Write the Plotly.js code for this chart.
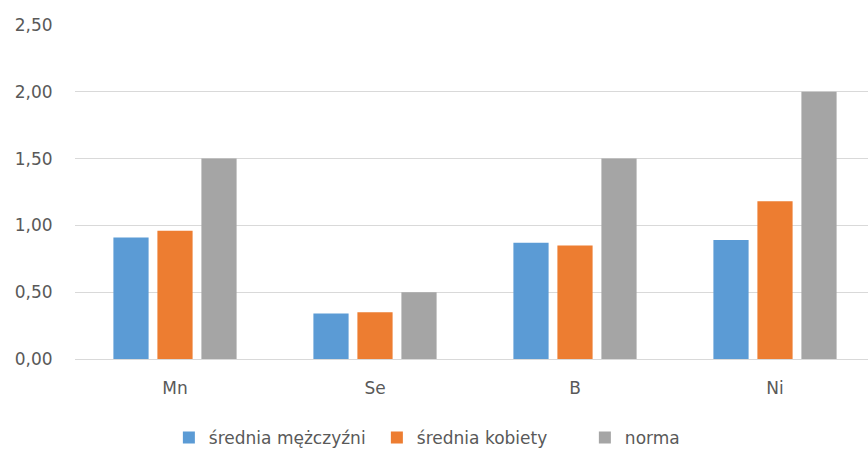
<!DOCTYPE html>
<html>
<head>
<meta charset="utf-8">
<script src="https://cdn.plot.ly/plotly-3.0.1.min.js"></script>
<style>
  html, body { margin: 0; padding: 0; background: #fff; }
  #chart { width: 868px; height: 452px; }
</style>
</head>
<body>
<div id="chart"></div>
<script>
// Pierwiastki i średnie wartości
const categories = ['Mn', 'Se', 'B', 'Ni'];
const sredniaMezczyzni = [0.91, 0.34, 0.87, 0.89];
const sredniaKobiety = [0.96, 0.35, 0.85, 1.18];
const norma = [1.50, 0.50, 1.50, 2.00];
const seriesNames = ['średnia mężczyźni', 'średnia kobiety', 'norma'];
const yTicks = [0, 0.5, 1, 1.5, 2, 2.5];

const colors = ['#5B9BD5', '#ED7D31', '#A5A5A5'];
const values = [sredniaMezczyzni, sredniaKobiety, norma];

const traces = values.map((v, i) => ({
  type: 'bar',
  x: categories,
  y: v,
  name: seriesNames[i],
  marker: { color: colors[i], line: { width: 0 } },
  hoverinfo: 'skip'
}));

const font = { family: 'DejaVu Sans, sans-serif', size: 17, color: '#595959' };

const layout = {
  width: 868,
  height: 452,
  margin: { l: 75, r: 0, t: 25, b: 93 },
  paper_bgcolor: '#fff',
  plot_bgcolor: '#fff',
  separators: ', ',
  font: font,
  barmode: 'group',
  bargap: 0.34,
  bargroupgap: 0.2,
  showlegend: true,
  legend: {
    orientation: 'h',
    xref: 'container', yref: 'container',
    x: 0.554, xanchor: 'center',
    y: 0.031, yanchor: 'middle',
    font: font,
    itemwidth: 30,
    entrywidth: 163,
    entrywidthmode: 'pixels',
    tracegroupgap: 0
  },
  xaxis: {
    type: 'category',
    range: [-0.5, 3.465],
    showgrid: false,
    showline: true,
    linecolor: '#D9D9D9',
    linewidth: 1,
    ticks: 'outside',
    ticklen: 14,
    tickcolor: 'rgba(0,0,0,0)',
    tickfont: font,
    zeroline: false,
    fixedrange: true
  },
  yaxis: {
    range: [0, 2.5],
    tickvals: yTicks,
    tickformat: '.2f',
    showgrid: true,
    gridcolor: '#D9D9D9',
    gridwidth: 1,
    zeroline: false,
    showline: false,
    ticks: 'outside',
    ticklen: 18,
    tickcolor: 'rgba(0,0,0,0)',
    tickfont: font,
    fixedrange: true
  }
};

Plotly.newPlot('chart', traces, layout, { displayModeBar: false, staticPlot: true });
</script>
</body>
</html>
